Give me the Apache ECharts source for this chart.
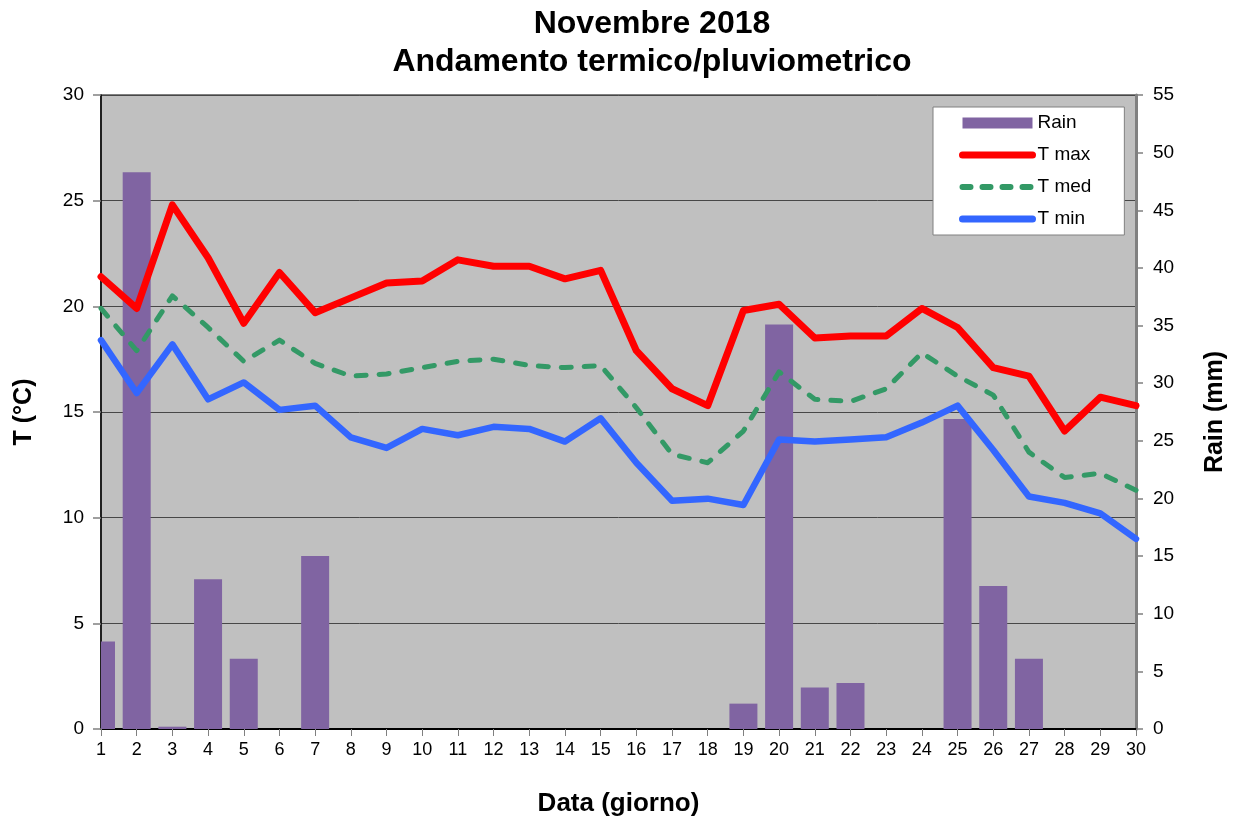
<!DOCTYPE html>
<html>
<head>
<meta charset="utf-8">
<title>Novembre 2018</title>
<script src="https://cdn.jsdelivr.net/npm/echarts@6/dist/echarts.min.js"></script>
<style>
    html, body { margin: 0; padding: 0; background: #fff; }
    #con1 { width: 1236px; height: 818px; }
</style>
</head>
<body>
<div id="con1"></div>
<script>
// giorni del mese
var days = ['1', '2', '3', '4', '5', '6', '7', '8', '9', '10',
    '11', '12', '13', '14', '15', '16', '17', '18', '19', '20',
    '21', '22', '23', '24', '25', '26', '27', '28', '29', '30'];
// pioggia (mm)
var rain = [7.6, 48.3, 0.2, 13.0, 6.1, 0, 15.0, 0, 0, 0,
    0, 0, 0, 0, 0, 0, 0, 0, 2.2, 35.1,
    3.6, 4.0, 0, 0, 26.9, 12.4, 6.1, 0, 0, 0];
// temperature (°C)
var tMax = [21.4, 19.9, 24.8, 22.3, 19.2, 21.6, 19.7, 20.4, 21.1, 21.2,
    22.2, 21.9, 21.9, 21.3, 21.7, 17.9, 16.1, 15.3, 19.8, 20.1,
    18.5, 18.6, 18.6, 19.9, 19.0, 17.1, 16.7, 14.1, 15.7, 15.3];
var tMed = [19.9, 17.9, 20.5, 19.0, 17.4, 18.4, 17.3, 16.7, 16.8, 17.1,
    17.4, 17.5, 17.2, 17.1, 17.2, 15.2, 13.0, 12.6, 14.1, 16.9,
    15.6, 15.5, 16.1, 17.8, 16.7, 15.8, 13.1, 11.9, 12.1, 11.3];
var tMin = [18.4, 15.9, 18.2, 15.6, 16.4, 15.1, 15.3, 13.8, 13.3, 14.2,
    13.9, 14.3, 14.2, 13.6, 14.7, 12.6, 10.8, 10.9, 10.6, 13.7,
    13.6, 13.7, 13.8, 14.5, 15.3, 13.2, 11.0, 10.7, 10.2, 9.0];

var font = '"Liberation Sans", Arial, sans-serif';

// barre della pioggia tagliate sul bordo dell'area del grafico
function renderRain(params, api) {
    var top = api.coord([api.value(0), api.value(1)]);
    var base = api.coord([api.value(0), 0]);
    var w = 28;
    var cs = params.coordSys;
    var shape = echarts.graphic.clipRectByRect(
        { x: top[0] - w / 2, y: top[1], width: w, height: base[1] - top[1] },
        { x: cs.x, y: cs.y, width: cs.width, height: cs.height }
    );
    return shape && { type: 'rect', shape: shape, style: api.style() };
}

var myChart = echarts.init(document.getElementById('con1'));
myChart.setOption({
    animation: false,
    textStyle: { fontFamily: font, color: '#000' },
    title: {
        text: 'Novembre 2018\nAndamento termico/pluviometrico',
        left: 652,
        top: 5,
        padding: 0,
        textAlign: 'center',
        textVerticalAlign: 'top',
        textStyle: {
            fontFamily: font,
            fontSize: 32,
            fontWeight: 'bold',
            lineHeight: 38,
            color: '#000'
        }
    },
    legend: {
        orient: 'vertical',
        left: 933,
        top: 107,
        padding: [6, 33, 6, 26],
        itemWidth: 70,
        itemHeight: 11,
        itemGap: 12,
        backgroundColor: '#fff',
        borderColor: '#808080',
        borderWidth: 1,
        borderRadius: 0,
        textStyle: { fontFamily: font, fontSize: 19, lineHeight: 20, color: '#000' },
        data: [
            { name: 'Rain', icon: 'rect', itemStyle: { color: '#8064a2' } },
            { name: 'T max', itemStyle: { opacity: 0 }, lineStyle: { width: 7, cap: 'round' } },
            { name: 'T med', itemStyle: { opacity: 0 }, lineStyle: { width: 6, type: [8, 12], cap: 'round' } },
            { name: 'T min', itemStyle: { opacity: 0 }, lineStyle: { width: 7, cap: 'round' } }
        ]
    },
    grid: {
        left: 101,
        right: 100,
        top: 95,
        bottom: 89,
        outerBoundsMode: 'none',
        show: true,
        backgroundColor: '#c0c0c0',
        borderColor: '#808080',
        borderWidth: 2
    },
    xAxis: {
        type: 'category',
        data: days,
        boundaryGap: false,
        name: 'Data (giorno)',
        nameLocation: 'middle',
        nameGap: 62,
        nameTextStyle: { fontFamily: font, fontSize: 26, fontWeight: 'bold', color: '#000' },
        axisLine: { lineStyle: { color: '#000', width: 2 } },
        axisTick: { length: 7, interval: 0, lineStyle: { color: '#808080', width: 1 } },
        axisLabel: { interval: 0, margin: 12, fontSize: 18, color: '#000', fontFamily: font },
        splitLine: { show: false }
    },
    yAxis: [
        {
            type: 'value',
            min: 0,
            max: 30,
            interval: 5,
            name: 'T (°C)',
            nameLocation: 'middle',
            nameRotate: 90,
            nameGap: 64,
            nameTextStyle: { fontFamily: font, fontSize: 25, fontWeight: 'bold', color: '#000' },
            axisLine: { show: true, lineStyle: { color: '#000', width: 1.5 } },
            axisTick: { show: true, length: 8, lineStyle: { color: '#808080', width: 1.5 } },
            axisLabel: { margin: 17, fontSize: 19, color: '#000', fontFamily: font },
            splitLine: { show: true, lineStyle: { color: '#474747', width: 1 } }
        },
        {
            type: 'value',
            min: 0,
            max: 55,
            interval: 5,
            position: 'right',
            name: 'Rain (mm)',
            nameLocation: 'middle',
            nameRotate: 90,
            nameGap: 67,
            nameTextStyle: { fontFamily: font, fontSize: 25, fontWeight: 'bold', color: '#000' },
            axisLine: { show: true, lineStyle: { color: '#808080', width: 3 } },
            axisTick: { show: true, length: 7, lineStyle: { color: '#808080', width: 1.5 } },
            axisLabel: { margin: 17, fontSize: 19, color: '#000', fontFamily: font },
            splitLine: { show: false }
        }
    ],
    series: [
        {
            name: 'Rain',
            type: 'custom',
            yAxisIndex: 1,
            renderItem: renderRain,
            encode: { x: 0, y: 1 },
            data: rain.map(function (v, i) { return [i, v]; }),
            itemStyle: { color: '#8064a2' }
        },
        {
            name: 'T max',
            type: 'line',
            data: tMax,
            symbol: 'none',
            lineStyle: { color: '#ff0000', width: 7, join: 'round', cap: 'round' },
            itemStyle: { color: '#ff0000' }
        },
        {
            name: 'T med',
            type: 'line',
            data: tMed,
            symbol: 'none',
            lineStyle: { color: '#339966', width: 5, type: [10, 13], cap: 'round', join: 'round' },
            itemStyle: { color: '#339966' }
        },
        {
            name: 'T min',
            type: 'line',
            data: tMin,
            symbol: 'none',
            lineStyle: { color: '#3366ff', width: 6.5, join: 'round', cap: 'round' },
            itemStyle: { color: '#3366ff' }
        }
    ]
});
</script>
</body>
</html>
